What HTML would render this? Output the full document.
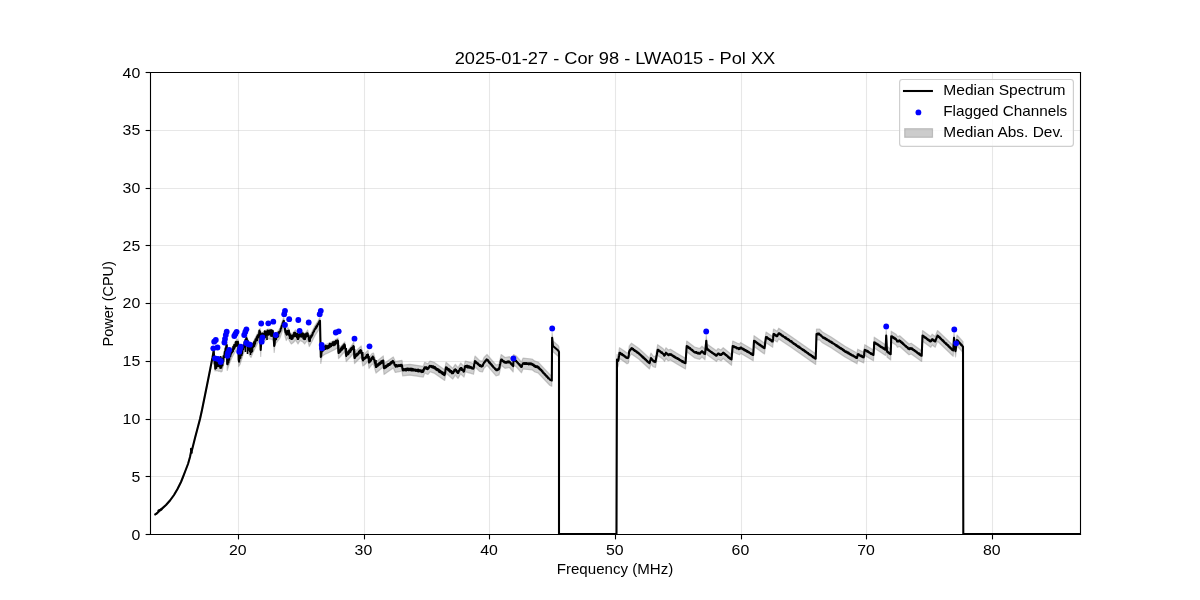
<!DOCTYPE html>
<html><head><meta charset="utf-8"><title>Median Spectrum</title>
<style>
html,body{margin:0;padding:0;background:#fff;width:1200px;height:600px;overflow:hidden}
svg{display:block;will-change:transform}
text{font-family:"Liberation Sans",sans-serif;fill:#000}
</style></head><body>
<svg width="1200" height="600" viewBox="0 0 1200 600">
<rect x="0" y="0" width="1200" height="600" fill="#fff"/>
<g stroke="#b0b0b0" stroke-opacity="0.3" stroke-width="1.11"><line x1="238.5" y1="72" x2="238.5" y2="534"/><line x1="364.5" y1="72" x2="364.5" y2="534"/><line x1="489.5" y1="72" x2="489.5" y2="534"/><line x1="615.5" y1="72" x2="615.5" y2="534"/><line x1="741.5" y1="72" x2="741.5" y2="534"/><line x1="866.5" y1="72" x2="866.5" y2="534"/><line x1="992.5" y1="72" x2="992.5" y2="534"/><line x1="150" y1="476.5" x2="1080" y2="476.5"/><line x1="150" y1="419.5" x2="1080" y2="419.5"/><line x1="150" y1="361.5" x2="1080" y2="361.5"/><line x1="150" y1="303.5" x2="1080" y2="303.5"/><line x1="150" y1="245.5" x2="1080" y2="245.5"/><line x1="150" y1="188.5" x2="1080" y2="188.5"/><line x1="150" y1="130.5" x2="1080" y2="130.5"/></g>
<defs><clipPath id="ax"><rect x="150" y="72" width="930" height="462.5"/></clipPath></defs>
<g clip-path="url(#ax)"><polygon points="155.3,513.7 156.7,512.9 159.0,510.6 162.0,508.0 166.0,504.4 170.0,499.9 174.0,494.4 177.5,488.4 181.0,481.4 183.0,476.4 185.5,469.9 188.0,463.4 190.0,456.4 191.0,451.4 192.0,449.4 195.0,437.4 197.5,427.9 200.0,417.5 202.0,408.5 206.7,385.2 210.2,367.7 212.5,356.0 213.7,346.5 214.3,354.0 215.0,359.0 216.0,358.5 217.0,359.0 218.0,359.0 219.0,359.5 220.0,359.0 221.0,360.0 222.0,361.5 224.0,352.5 226.8,341.5 227.2,360.5 228.0,358.0 230.0,352.0 232.5,346.5 235.0,342.0 237.0,339.0 238.3,340.5 238.7,356.5 240.0,354.5 243.0,345.0 246.8,335.5 248.0,340.5 249.5,345.5 251.0,347.5 253.0,342.5 256.0,336.5 258.5,331.5 260.2,328.5 260.7,346.5 261.4,333.5 264.0,331.5 266.0,330.0 268.0,329.0 270.0,329.0 272.0,329.5 273.5,330.5 274.2,342.5 275.0,334.0 277.0,332.0 279.0,329.5 280.0,328.0 282.0,322.0 283.8,317.3 285.1,326.5 286.3,330.5 288.0,327.5 289.7,331.5 291.3,334.0 293.4,332.5 295.5,330.0 298.0,334.0 300.0,330.5 303.0,332.0 304.7,334.0 307.6,330.0 309.3,336.5 312.0,331.5 315.0,325.5 318.0,321.0 320.0,317.3 320.8,354.0 322.0,347.0 324.5,345.0 328.0,343.5 332.0,341.5 335.0,340.0 338.0,338.0 338.5,349.0 340.0,347.5 344.8,342.0 346.2,352.0 350.0,348.0 353.8,342.0 354.5,352.5 358.0,349.0 361.2,346.0 362.8,355.0 365.0,353.5 368.0,350.2 369.0,357.5 372.0,353.5 373.5,353.0 376.0,362.0 383.3,356.0 384.0,363.5 393.3,357.0 395.3,361.5 402.0,360.3 402.7,365.0 410.0,364.3 423.3,366.3 424.7,362.3 428.0,363.7 430.0,361.0 434.0,362.3 444.7,369.7 446.0,362.3 452.7,368.3 455.3,364.3 458.0,367.7 460.7,363.0 464.0,366.3 465.3,361.0 470.0,362.3 473.5,363.5 475.0,356.0 479.5,360.5 482.5,361.2 484.0,357.5 487.0,354.5 496.0,365.0 499.0,364.2 501.2,354.5 505.0,357.5 509.5,356.7 513.2,361.2 513.5,354.5 516.2,356.0 521.5,362.0 523.0,358.2 532.0,359.0 535.0,361.2 538.0,362.0 550.0,374.7 551.8,375.5 552.1,332.7 553.0,341.0 558.2,345.5 559.0,347.0 559.0,357.8 558.2,356.3 553.0,351.8 552.1,343.5 551.8,386.3 550.0,385.5 538.0,372.8 535.0,372.0 532.0,369.8 523.0,369.0 521.5,372.8 516.2,366.8 513.5,365.3 513.2,372.0 509.5,367.5 505.0,368.3 501.2,365.3 499.0,375.0 496.0,375.8 487.0,365.3 484.0,368.3 482.5,372.0 479.5,371.3 475.0,366.8 473.5,374.3 470.0,373.1 465.3,371.8 464.0,377.1 460.7,373.8 458.0,378.5 455.3,375.1 452.7,379.1 446.0,373.1 444.7,380.5 434.0,373.1 430.0,371.8 428.0,374.5 424.7,373.1 423.3,377.1 410.0,375.1 402.7,375.8 402.0,371.1 395.3,372.5 393.3,368.0 384.0,374.5 383.3,367.0 376.0,373.0 373.5,364.0 372.0,364.5 369.0,368.5 368.0,361.2 365.0,364.5 362.8,366.0 361.2,357.0 358.0,360.0 354.5,363.5 353.8,353.0 350.0,357.5 346.2,361.5 344.8,351.5 340.0,357.0 338.5,358.5 338.0,347.5 335.0,349.5 332.0,351.0 328.0,353.0 324.5,354.5 322.0,356.5 320.8,363.5 320.0,327.3 318.0,331.0 315.0,335.5 312.0,341.5 309.3,346.5 307.6,340.0 304.7,344.0 303.0,342.0 300.0,340.5 298.0,344.0 295.5,340.0 293.4,342.5 291.3,344.0 289.7,341.5 288.0,337.5 286.3,340.5 285.1,336.5 283.8,327.3 282.0,332.0 280.0,338.0 279.0,339.5 277.0,342.0 275.0,344.0 274.2,352.5 273.5,340.5 272.0,339.5 270.0,339.0 268.0,339.0 266.0,340.0 264.0,341.5 261.4,343.5 260.7,356.5 260.2,338.5 258.5,341.5 256.0,346.5 253.0,352.5 251.0,357.5 249.5,355.5 248.0,350.5 246.8,345.5 243.0,355.0 240.0,364.5 238.7,366.5 238.3,350.5 237.0,349.0 235.0,352.0 232.5,356.5 230.0,362.0 228.0,368.0 227.2,370.5 226.8,351.5 224.0,362.5 222.0,371.5 221.0,372.0 220.0,371.0 219.0,371.5 218.0,371.0 217.0,371.0 216.0,370.5 215.0,371.0 214.3,366.0 213.7,358.5 212.5,359.0 210.2,370.7 206.7,388.2 202.0,411.5 200.0,420.5 197.5,429.1 195.0,438.6 192.0,450.6 191.0,452.6 190.0,457.6 188.0,464.6 185.5,471.1 183.0,477.6 181.0,482.6 177.5,489.6 174.0,495.6 170.0,501.1 166.0,505.6 162.0,509.2 159.0,511.8 156.7,514.1 155.3,514.9" fill="#808080" fill-opacity="0.36" stroke="#808080" stroke-opacity="0.4" stroke-width="1.2" stroke-linejoin="round"/><polygon points="617.0,354.5 618.0,356.0 618.7,353.0 619.5,347.7 624.0,350.7 627.0,353.0 628.5,352.2 629.2,346.2 631.5,343.2 639.0,348.5 649.5,358.2 651.0,353.0 653.2,356.0 655.5,356.7 657.7,344.7 663.0,348.5 664.5,350.7 666.0,347.7 668.2,350.0 670.5,349.2 676.5,353.0 685.5,358.2 686.7,341.0 694.5,347.0 699.7,348.5 702.0,346.2 705.0,349.0 706.3,335.7 707.0,344.0 716.5,350.7 718.0,348.5 721.0,350.0 723.2,347.7 731.5,354.5 732.7,341.0 737.5,343.2 739.7,344.0 740.5,342.5 749.5,347.7 753.2,350.0 754.0,335.7 764.5,343.2 766.0,332.0 772.7,336.5 773.5,329.0 777.2,331.2 778.7,328.2 790.0,335.7 797.5,341.0 815.7,353.7 816.5,329.0 819.5,329.0 822.5,332.0 831.5,337.2 833.7,338.7 845.0,346.2 857.0,353.0 857.7,349.2 863.7,352.2 864.8,344.7 873.5,350.0 874.2,337.2 885.5,344.7 886.2,330.5 887.0,346.2 890.7,349.2 891.2,331.2 896.0,334.2 897.5,336.5 899.7,335.7 909.0,344.0 911.2,343.2 921.7,350.7 922.5,330.5 930.7,336.5 932.2,334.2 935.2,336.5 937.5,330.5 953.2,345.5 954.0,332.7 955.5,346.2 957.0,335.0 963.0,341.7 963.0,352.5 957.0,345.8 955.5,357.0 954.0,343.5 953.2,356.3 937.5,341.3 935.2,347.3 932.2,345.0 930.7,347.3 922.5,341.3 921.7,361.5 911.2,354.0 909.0,354.8 899.7,346.5 897.5,347.3 896.0,345.0 891.2,342.0 890.7,360.0 887.0,357.0 886.2,341.3 885.5,355.5 874.2,348.0 873.5,360.8 864.8,355.5 863.7,363.0 857.7,360.0 857.0,363.8 845.0,357.0 833.7,349.5 831.5,348.0 822.5,342.8 819.5,339.8 816.5,339.8 815.7,364.5 797.5,351.8 790.0,346.5 778.7,339.0 777.2,342.0 773.5,339.8 772.7,347.3 766.0,342.8 764.5,354.0 754.0,346.5 753.2,360.8 749.5,358.5 740.5,353.3 739.7,354.8 737.5,354.0 732.7,351.8 731.5,365.3 723.2,358.5 721.0,360.8 718.0,359.3 716.5,361.5 707.0,354.8 706.3,346.5 705.0,359.8 702.0,357.0 699.7,359.3 694.5,357.8 686.7,351.8 685.5,369.0 676.5,363.8 670.5,360.0 668.2,360.8 666.0,358.5 664.5,361.5 663.0,359.3 657.7,355.5 655.5,367.5 653.2,366.8 651.0,363.8 649.5,369.0 639.0,359.3 631.5,354.0 629.2,357.0 628.5,363.0 627.0,363.8 624.0,361.5 619.5,358.5 618.7,363.8 618.0,366.8 617.0,365.3" fill="#808080" fill-opacity="0.36" stroke="#808080" stroke-opacity="0.4" stroke-width="1.2" stroke-linejoin="round"/><polyline points="155.3,514.3 156.7,513.5 159.0,511.2 162.0,508.6 166.0,505.0 170.0,500.5 174.0,495.0 177.5,489.0 181.0,482.0 183.0,477.0 185.5,470.5 188.0,464.0 190.0,457.0 191.0,452.0 192.0,450.0 195.0,438.0 197.5,428.5 200.0,419.0 202.0,410.0 206.7,386.7 210.2,369.2 212.5,357.5 213.7,350.5 214.0,354.8 214.3,358.0 214.7,363.9 215.0,363.0 215.3,368.6 215.7,359.7 216.0,362.5 216.3,367.9 216.7,358.4 217.0,363.0 217.3,365.9 217.7,357.9 218.0,363.0 218.3,366.0 218.7,358.6 219.0,363.5 219.3,366.3 219.7,360.1 220.0,363.0 220.3,368.0 220.7,357.0 221.0,364.0 221.3,367.6 221.7,361.0 222.0,365.0 222.4,365.5 222.8,358.5 223.2,361.8 223.6,356.0 224.0,356.0 224.4,357.0 224.8,351.9 225.2,353.6 225.6,348.3 226.0,349.3 226.4,345.5 226.8,345.0 227.2,364.0 227.6,364.2 228.0,361.5 228.4,362.6 228.8,357.9 229.2,359.8 229.6,354.7 230.0,355.5 230.4,356.1 230.8,351.8 231.2,353.8 231.7,350.8 232.1,352.2 232.5,350.0 232.9,351.3 233.3,346.9 233.8,349.2 234.2,345.1 234.6,347.9 235.0,345.5 235.4,346.3 235.8,342.0 236.2,345.8 236.6,341.8 237.0,342.5 237.4,344.9 237.9,341.7 238.3,344.0 238.7,360.0 239.1,361.7 239.6,356.5 240.0,358.0 240.4,358.0 240.9,352.7 241.3,355.0 241.7,351.0 242.1,353.4 242.6,348.7 243.0,348.5 243.4,349.2 243.8,345.4 244.2,347.4 244.7,342.1 245.1,345.1 245.5,339.8 245.9,342.6 246.3,338.0 246.8,339.0 247.2,342.6 247.6,340.4 248.0,344.0 248.4,346.9 248.8,344.2 249.1,350.3 249.5,349.0 249.9,351.2 250.2,348.0 250.6,351.5 251.0,351.0 251.4,352.1 251.8,347.0 252.2,351.2 252.6,344.2 253.0,346.0 253.4,346.9 253.9,342.4 254.3,345.9 254.7,341.4 255.1,343.8 255.6,339.4 256.0,340.0 256.4,340.5 256.8,337.1 257.2,340.2 257.7,335.3 258.1,337.5 258.5,335.0 258.9,336.2 259.4,330.6 259.8,334.0 260.2,332.0 260.4,343.1 260.7,350.0 261.0,345.8 261.4,337.0 261.8,339.6 262.3,333.5 262.7,338.9 263.1,334.0 263.6,337.3 264.0,335.0 264.4,336.6 264.8,331.4 265.2,337.2 265.6,332.4 266.0,333.5 266.4,334.8 266.8,331.5 267.2,334.5 267.6,330.6 268.0,332.5 268.4,334.8 268.8,330.8 269.2,333.6 269.6,330.5 270.0,332.5 270.4,334.5 270.8,330.4 271.2,335.9 271.6,330.3 272.0,333.0 272.4,335.4 272.8,331.1 273.1,336.3 273.5,334.0 273.9,341.2 274.2,346.0 274.6,344.7 275.0,337.5 275.4,339.8 275.8,333.8 276.2,339.1 276.6,334.0 277.0,335.5 277.4,336.9 277.8,333.2 278.2,336.4 278.6,332.3 279.0,333.0 279.3,332.8 279.7,331.6 280.0,331.5 280.4,330.7 280.8,328.6 281.2,328.2 281.6,326.4 282.0,325.5 282.4,324.9 282.7,323.3 283.1,323.1 283.4,321.4 283.8,320.8 284.2,326.1 284.7,325.1 285.1,330.0 285.5,332.4 285.9,331.4 286.3,334.0 286.7,334.6 287.1,331.1 287.6,332.8 288.0,331.0 288.4,334.2 288.9,330.6 289.3,335.6 289.7,335.0 290.1,337.2 290.5,335.3 290.9,337.9 291.3,337.5 291.7,338.6 292.1,335.6 292.6,338.7 293.0,335.2 293.4,336.0 293.8,336.4 294.2,332.7 294.7,336.2 295.1,332.9 295.5,333.5 295.9,335.9 296.3,334.0 296.8,337.2 297.2,333.8 297.6,339.0 298.0,337.5 298.4,338.7 298.8,334.9 299.2,336.8 299.6,333.6 300.0,334.0 300.4,336.3 300.9,332.8 301.3,336.7 301.7,333.5 302.1,336.3 302.6,333.2 303.0,335.5 303.4,338.4 303.9,334.3 304.3,339.1 304.7,337.5 305.1,339.0 305.5,334.4 305.9,337.0 306.4,333.6 306.8,336.0 307.2,333.2 307.6,333.5 308.0,336.0 308.5,335.5 308.9,339.6 309.3,340.0 309.8,341.1 310.2,337.6 310.6,338.0 311.1,335.9 311.6,336.6 312.0,335.0 312.4,334.9 312.9,332.8 313.3,332.8 313.7,331.2 314.1,331.1 314.6,329.5 315.0,329.0 315.4,329.0 315.9,327.0 316.3,327.8 316.7,325.9 317.1,326.4 317.6,324.4 318.0,324.5 318.4,324.1 318.8,322.4 319.2,323.0 319.6,320.9 320.0,320.8 320.4,339.6 320.8,357.0 321.2,355.9 321.6,351.5 322.0,350.0 322.4,351.2 322.8,348.3 323.2,350.6 323.7,346.9 324.1,349.4 324.5,348.0 324.9,348.9 325.4,345.9 325.8,348.9 326.2,346.4 326.7,347.8 327.1,346.1 327.6,348.4 328.0,346.5 328.4,347.9 328.9,345.3 329.3,347.4 329.8,343.8 330.2,346.8 330.7,344.1 331.1,346.2 331.6,343.9 332.0,344.5 332.4,344.9 332.9,342.3 333.3,345.2 333.7,342.4 334.1,345.2 334.6,342.1 335.0,343.0 335.4,344.4 335.9,340.8 336.3,343.0 336.7,340.9 337.1,342.5 337.6,340.4 338.0,341.0 338.2,347.8 338.5,352.0 338.9,352.6 339.2,350.1 339.6,351.7 340.0,350.5 340.4,351.7 340.9,348.5 341.3,350.2 341.7,347.2 342.2,349.7 342.6,346.4 343.0,348.7 343.5,345.3 343.9,347.3 344.3,344.3 344.8,345.0 345.1,348.2 345.5,348.9 345.9,353.3 346.2,355.0 346.7,355.2 347.1,352.5 347.5,354.5 347.9,352.0 348.3,354.3 348.8,351.1 349.2,352.9 349.6,350.2 350.0,351.0 350.4,351.8 350.8,348.5 351.2,350.3 351.7,347.7 352.1,349.2 352.5,347.3 352.9,348.6 353.3,346.1 353.8,346.5 354.1,352.7 354.5,357.0 354.9,357.7 355.4,354.9 355.8,356.5 356.2,354.3 356.7,355.7 357.1,353.5 357.6,355.0 358.0,353.5 358.4,354.0 358.8,351.8 359.2,353.2 359.6,350.7 360.0,352.7 360.4,350.1 360.8,352.1 361.2,350.5 361.6,353.4 362.0,354.1 362.4,358.5 362.8,359.5 363.1,360.4 363.5,358.4 363.9,359.3 364.2,357.7 364.6,358.8 365.0,358.0 365.4,358.2 365.9,356.6 366.3,357.6 366.7,355.0 367.1,356.9 367.6,354.6 368.0,354.8 368.3,358.2 368.7,358.6 369.0,362.0 369.4,362.0 369.9,359.7 370.3,361.6 370.7,359.1 371.1,360.4 371.6,357.8 372.0,358.0 372.4,358.7 372.8,356.5 373.1,358.8 373.5,357.5 373.9,359.6 374.3,359.7 374.8,362.9 375.2,362.8 375.6,365.6 376.0,366.5 376.4,366.9 376.9,364.7 377.3,365.9 377.7,364.2 378.1,365.6 378.6,363.9 379.0,364.8 379.4,362.7 379.9,364.2 380.3,362.6 380.7,363.6 381.2,361.4 381.6,362.9 382.0,361.1 382.4,361.7 382.9,360.5 383.3,360.5 383.6,365.1 384.0,368.0 384.4,368.2 384.9,366.9 385.3,367.7 385.8,365.8 386.2,367.3 386.7,365.6 387.1,366.3 387.5,364.6 388.0,365.9 388.4,364.1 388.9,365.0 389.3,363.9 389.8,364.8 390.2,363.0 390.6,363.8 391.1,362.1 391.5,363.5 392.0,361.6 392.4,362.5 392.9,360.9 393.3,361.5 393.7,362.8 394.1,362.4 394.5,364.8 394.9,364.5 395.3,366.0 395.7,366.7 396.2,365.0 396.6,366.4 397.1,365.4 397.5,366.5 398.0,365.2 398.4,366.1 398.9,365.2 399.3,366.0 399.8,365.1 400.2,366.0 400.7,364.9 401.1,366.2 401.6,364.8 402.0,365.3 402.4,368.3 402.7,370.0 403.1,370.4 403.6,369.3 404.0,370.2 404.4,369.3 404.8,370.2 405.3,368.9 405.7,370.4 406.1,369.2 406.6,370.3 407.0,368.6 407.4,370.0 407.9,368.6 408.3,370.1 408.7,368.8 409.1,370.3 409.6,368.7 410.0,369.3 410.4,370.0 410.9,368.6 411.3,370.5 411.8,369.0 412.2,370.5 412.7,368.9 413.1,370.5 413.5,369.2 414.0,370.5 414.4,369.6 414.9,370.5 415.3,369.7 415.8,371.0 416.2,369.7 416.6,370.8 417.1,370.0 417.5,371.3 418.0,369.6 418.4,371.4 418.9,370.1 419.3,371.2 419.8,370.2 420.2,371.5 420.6,370.4 421.1,371.6 421.5,370.5 422.0,372.1 422.4,370.2 422.9,371.9 423.3,371.3 423.6,370.8 424.0,368.3 424.4,368.9 424.7,367.3 425.1,368.1 425.5,367.3 425.9,368.4 426.4,367.3 426.8,368.9 427.2,367.9 427.6,369.2 428.0,368.7 428.4,368.5 428.8,367.1 429.2,367.5 429.6,365.9 430.0,366.0 430.4,366.5 430.9,365.9 431.3,367.0 431.8,366.1 432.2,367.5 432.7,366.2 433.1,367.8 433.6,366.4 434.0,367.3 434.4,368.4 434.9,367.0 435.3,368.8 435.8,368.0 436.2,369.8 436.7,368.7 437.1,370.3 437.6,369.0 438.0,370.5 438.5,369.5 438.9,371.6 439.4,370.2 439.8,372.1 440.2,370.7 440.7,372.4 441.1,371.5 441.6,373.2 442.0,372.0 442.5,374.0 442.9,372.6 443.4,374.5 443.8,373.2 444.3,375.2 444.7,374.7 445.1,373.0 445.6,369.3 446.0,367.3 446.4,368.1 446.9,367.7 447.3,369.1 447.8,368.5 448.2,370.2 448.7,369.0 449.1,370.9 449.6,369.7 450.0,371.7 450.5,370.6 450.9,372.1 451.4,371.2 451.8,373.3 452.3,372.2 452.7,373.3 453.1,373.3 453.6,371.2 454.0,371.7 454.4,369.8 454.9,370.5 455.3,369.3 455.8,370.3 456.2,369.9 456.6,371.8 457.1,371.1 457.6,373.0 458.0,372.7 458.4,372.9 458.9,370.5 459.4,370.9 459.8,368.9 460.2,369.6 460.7,368.0 461.1,369.3 461.5,368.1 461.9,370.0 462.4,369.2 462.8,370.5 463.2,370.0 463.6,371.7 464.0,371.3 464.4,370.1 464.9,367.0 465.3,366.0 465.7,366.5 466.2,365.8 466.6,366.9 467.0,365.7 467.4,367.4 467.9,365.9 468.3,367.4 468.7,366.3 469.1,367.7 469.6,366.5 470.0,367.3 470.4,367.7 470.9,367.0 471.3,368.0 471.8,367.3 472.2,368.6 472.6,368.0 473.1,368.7 473.5,368.5 473.9,367.2 474.2,364.2 474.6,363.3 475.0,361.0 475.4,361.7 475.8,361.5 476.2,362.8 476.6,362.3 477.0,363.5 477.5,363.2 477.9,364.3 478.3,363.7 478.7,364.9 479.1,364.6 479.5,365.5 479.9,366.0 480.4,365.1 480.8,366.3 481.2,365.6 481.6,366.6 482.1,365.7 482.5,366.2 482.9,365.5 483.2,364.1 483.6,363.8 484.0,362.5 484.4,362.5 484.9,361.3 485.3,361.5 485.7,360.4 486.1,360.7 486.6,359.4 487.0,359.5 487.4,360.2 487.9,360.0 488.3,361.5 488.7,361.2 489.1,362.6 489.6,362.0 490.0,363.6 490.4,363.2 490.9,364.4 491.3,364.1 491.7,365.6 492.1,365.1 492.6,366.4 493.0,366.1 493.4,367.3 493.9,367.3 494.3,368.2 494.7,368.0 495.1,369.3 495.6,368.9 496.0,370.0 496.4,370.2 496.9,369.5 497.3,370.1 497.7,369.3 498.1,369.8 498.6,368.7 499.0,369.2 499.4,367.8 499.9,364.8 500.3,363.8 500.8,360.9 501.2,359.5 501.6,360.4 502.0,359.7 502.5,361.0 502.9,360.6 503.3,361.7 503.7,361.1 504.2,362.3 504.6,361.7 505.0,362.5 505.4,362.7 505.8,362.1 506.2,362.9 506.6,361.9 507.0,362.5 507.5,361.7 507.9,362.3 508.3,361.4 508.7,362.4 509.1,361.5 509.5,361.7 509.9,362.7 510.3,362.4 510.7,363.6 511.1,363.3 511.6,364.5 512.0,364.4 512.4,365.5 512.8,365.1 513.2,366.2 513.5,359.5 513.9,360.1 514.3,359.6 514.7,360.7 515.0,359.8 515.4,361.0 515.8,360.5 516.2,361.0 516.6,361.8 517.1,361.8 517.5,362.8 518.0,362.8 518.4,363.8 518.9,363.7 519.3,364.9 519.7,364.4 520.2,366.0 520.6,365.6 521.1,366.9 521.5,367.0 521.9,366.5 522.2,364.7 522.6,364.5 523.0,363.2 523.4,363.5 523.9,363.0 524.3,363.9 524.7,363.1 525.1,363.8 525.6,363.0 526.0,364.0 526.4,363.2 526.9,363.9 527.3,363.3 527.7,364.0 528.1,363.3 528.6,364.3 529.0,363.2 529.4,364.3 529.9,363.6 530.3,364.1 530.7,363.4 531.1,364.5 531.6,363.6 532.0,364.0 532.4,364.8 532.9,364.4 533.3,365.3 533.7,364.7 534.1,366.1 534.6,365.3 535.0,366.2 535.4,366.9 535.9,366.1 536.3,366.8 536.7,366.4 537.1,367.2 537.6,366.4 538.0,367.0 538.4,368.0 538.9,367.4 539.3,368.9 539.8,368.4 540.2,369.7 540.7,369.4 541.1,370.5 541.6,370.2 542.0,371.5 542.4,371.1 542.9,372.6 543.3,372.3 543.8,373.4 544.2,373.3 544.7,374.5 545.1,374.0 545.6,375.3 546.0,375.2 546.4,376.4 546.9,376.0 547.3,377.2 547.8,377.1 548.2,378.3 548.7,378.1 549.1,378.8 549.6,379.2 550.0,379.7 551.8,380.5 552.1,337.7 553.0,346.0 558.2,350.5 559.0,352.0 559.0,534.0 616.5,534.0 617.0,359.5 618.0,361.0 618.4,360.0 618.7,358.0 619.1,355.7 619.5,352.7 619.9,353.4 620.3,352.9 620.7,353.8 621.1,353.5 621.5,354.6 622.0,353.9 622.4,354.9 622.8,354.7 623.2,355.5 623.6,355.0 624.0,355.7 624.4,356.3 624.9,356.1 625.3,357.1 625.7,356.5 626.1,357.6 626.6,357.5 627.0,358.0 627.4,358.1 627.8,357.3 628.1,357.8 628.5,357.2 628.9,354.4 629.2,351.2 629.6,351.1 630.0,349.8 630.4,350.0 630.7,349.0 631.1,349.2 631.5,348.2 631.9,348.8 632.4,348.4 632.8,349.4 633.3,349.2 633.7,350.2 634.1,349.8 634.6,350.9 635.0,350.4 635.5,351.2 635.9,351.1 636.4,351.9 636.8,351.5 637.2,352.7 637.7,352.3 638.1,353.2 638.6,352.9 639.0,353.5 639.4,354.4 639.9,354.1 640.3,354.9 640.8,354.9 641.2,355.8 641.6,355.5 642.1,356.8 642.5,356.3 642.9,357.6 643.4,357.1 643.8,358.2 644.2,358.1 644.7,359.2 645.1,358.7 645.6,359.7 646.0,359.6 646.4,360.7 646.9,360.5 647.3,361.5 647.8,361.4 648.2,362.2 648.6,362.1 649.1,363.1 649.5,363.2 649.9,362.4 650.2,360.4 650.6,359.8 651.0,358.0 651.4,358.8 651.9,358.9 652.3,360.2 652.8,360.0 653.2,361.0 653.6,361.4 654.0,361.0 654.4,361.7 654.7,361.2 655.1,362.1 655.5,361.7 655.9,359.5 656.4,356.6 656.8,355.0 657.3,351.9 657.7,349.7 658.1,350.3 658.6,349.9 659.0,351.1 659.5,350.8 659.9,351.5 660.4,351.4 660.8,352.4 661.2,352.0 661.7,353.0 662.1,352.4 662.6,353.5 663.0,353.5 663.4,354.3 663.8,354.1 664.1,355.5 664.5,355.7 664.9,355.2 665.2,353.8 665.6,353.7 666.0,352.7 666.4,353.4 666.9,353.4 667.3,354.5 667.8,354.1 668.2,355.0 668.6,355.2 669.0,354.3 669.4,354.8 669.7,354.2 670.1,354.7 670.5,354.2 670.9,355.0 671.4,354.3 671.8,355.3 672.2,355.0 672.6,355.9 673.1,355.5 673.5,356.6 673.9,356.1 674.4,357.1 674.8,356.5 675.2,357.6 675.6,357.0 676.1,358.1 676.5,358.0 676.9,358.5 677.4,358.2 677.8,359.0 678.2,358.6 678.6,359.4 679.1,359.2 679.5,360.2 679.9,359.7 680.4,360.4 680.8,360.3 681.2,361.1 681.6,360.7 682.1,361.7 682.5,361.0 682.9,362.2 683.4,361.7 683.8,362.4 684.2,362.3 684.6,363.0 685.1,362.5 685.5,363.2 685.9,357.8 686.3,351.5 686.7,346.0 687.1,346.6 687.6,346.3 688.0,347.4 688.4,346.9 688.9,348.1 689.3,347.6 689.7,348.5 690.2,348.2 690.6,349.3 691.0,349.0 691.5,350.0 691.9,349.6 692.3,350.6 692.8,350.4 693.2,351.3 693.6,351.1 694.1,352.1 694.5,352.0 694.9,352.5 695.4,352.0 695.8,352.7 696.2,352.0 696.7,353.0 697.1,352.5 697.5,353.3 698.0,352.6 698.4,353.6 698.8,353.0 699.3,353.7 699.7,353.5 700.1,353.6 700.5,352.3 700.9,352.8 701.2,351.8 701.6,351.9 702.0,351.2 702.4,351.8 702.9,351.8 703.3,352.9 703.7,352.4 704.1,353.7 704.6,353.3 705.0,354.0 705.4,350.0 705.9,344.8 706.3,340.7 706.6,345.1 707.0,349.0 707.4,349.7 707.9,349.1 708.3,350.1 708.7,349.8 709.2,350.9 709.6,350.6 710.0,351.4 710.5,351.2 710.9,352.0 711.3,351.8 711.8,352.7 712.2,352.3 712.6,353.2 713.0,353.1 713.5,353.8 713.9,353.5 714.3,354.4 714.8,354.2 715.2,355.0 715.6,354.7 716.1,355.7 716.5,355.7 716.9,355.3 717.2,354.4 717.6,354.4 718.0,353.5 718.4,354.1 718.9,353.5 719.3,354.3 719.7,354.1 720.1,355.0 720.6,354.5 721.0,355.0 721.4,354.8 721.9,353.8 722.3,354.1 722.8,352.9 723.2,352.7 723.6,353.4 724.1,353.1 724.5,354.1 724.9,353.7 725.4,355.0 725.8,354.6 726.3,355.4 726.7,355.2 727.1,356.2 727.6,356.1 728.0,357.1 728.4,356.7 728.9,357.8 729.3,357.4 729.8,358.5 730.2,358.1 730.6,359.0 731.1,359.0 731.5,359.5 731.9,355.4 732.3,350.1 732.7,346.0 733.1,346.7 733.6,346.2 734.0,347.0 734.4,346.5 734.9,347.3 735.3,347.0 735.8,347.7 736.2,347.3 736.6,348.3 737.1,347.8 737.5,348.2 737.9,348.7 738.4,348.1 738.8,349.2 739.3,348.6 739.7,349.0 740.1,348.5 740.5,347.5 740.9,348.2 741.4,347.5 741.8,348.6 742.2,348.3 742.6,349.2 743.1,348.7 743.5,349.7 743.9,349.1 744.4,350.2 744.8,349.7 745.2,350.7 745.6,350.2 746.1,351.0 746.5,350.5 746.9,351.7 747.4,351.2 747.8,352.0 748.2,351.7 748.6,352.5 749.1,352.2 749.5,352.7 749.9,353.2 750.3,353.0 750.7,353.9 751.1,353.3 751.6,354.2 752.0,353.9 752.4,354.9 752.8,354.6 753.2,355.0 753.6,348.3 754.0,340.7 754.4,341.2 754.9,341.0 755.3,342.0 755.8,341.6 756.2,342.5 756.6,342.3 757.1,343.3 757.5,342.9 757.9,343.9 758.4,343.5 758.8,344.5 759.2,344.3 759.7,345.1 760.1,344.7 760.6,345.6 761.0,345.3 761.4,346.4 761.9,346.0 762.3,346.9 762.8,346.6 763.2,347.5 763.6,347.4 764.1,348.2 764.5,348.2 764.9,345.6 765.2,342.3 765.6,340.1 766.0,337.0 766.4,337.5 766.9,337.2 767.3,338.1 767.8,337.8 768.2,338.9 768.7,338.5 769.1,339.3 769.6,339.1 770.0,340.0 770.5,339.5 770.9,340.5 771.4,340.1 771.8,341.4 772.3,340.8 772.7,341.5 773.1,338.2 773.5,334.0 773.9,334.5 774.3,334.0 774.7,335.1 775.1,334.5 775.6,335.7 776.0,335.2 776.4,336.1 776.8,335.5 777.2,336.2 777.6,335.6 778.0,334.4 778.3,334.4 778.7,333.2 779.1,333.7 779.6,333.3 780.0,334.3 780.4,333.9 780.9,334.9 781.3,334.6 781.7,335.7 782.2,335.3 782.6,336.1 783.0,335.7 783.5,336.7 783.9,336.5 784.4,337.2 784.8,337.0 785.2,338.0 785.7,337.4 786.1,338.6 786.5,338.2 787.0,339.1 787.4,338.8 787.8,339.6 788.3,339.2 788.7,340.1 789.1,339.7 789.6,340.8 790.0,340.7 790.4,341.4 790.9,340.9 791.3,341.8 791.8,341.4 792.2,342.6 792.6,342.3 793.1,343.3 793.5,342.9 794.0,344.0 794.4,343.5 794.9,344.4 795.3,344.0 795.7,345.1 796.2,344.8 796.6,345.8 797.1,345.5 797.5,346.0 797.9,346.8 798.4,346.4 798.8,347.3 799.3,346.7 799.7,347.9 800.2,347.5 800.6,348.4 801.1,348.3 801.5,349.0 801.9,348.9 802.4,349.8 802.8,349.4 803.3,350.4 803.7,349.9 804.2,350.9 804.6,350.7 805.0,351.7 805.5,351.4 805.9,352.1 806.4,351.9 806.8,352.7 807.3,352.5 807.7,353.4 808.2,353.1 808.6,354.1 809.0,353.8 809.5,354.7 809.9,354.3 810.4,355.2 810.8,354.8 811.3,355.9 811.7,355.7 812.1,356.4 812.6,356.1 813.0,357.3 813.5,356.7 813.9,357.8 814.4,357.5 814.8,358.3 815.3,358.0 815.7,358.7 816.1,346.7 816.5,334.0 816.9,334.3 817.4,333.6 817.8,334.3 818.2,333.5 818.6,334.4 819.1,333.7 819.5,334.0 819.9,334.9 820.4,334.7 820.8,335.6 821.2,335.4 821.6,336.4 822.1,336.4 822.5,337.0 822.9,337.7 823.4,337.3 823.8,338.1 824.2,337.5 824.6,338.5 825.1,338.2 825.5,339.1 825.9,338.6 826.4,339.6 826.8,339.0 827.2,340.0 827.6,339.7 828.1,340.5 828.5,340.3 828.9,341.2 829.4,340.5 829.8,341.6 830.2,341.3 830.6,342.2 831.1,341.5 831.5,342.2 831.9,342.8 832.4,342.4 832.8,343.4 833.3,343.2 833.7,343.7 834.1,344.2 834.6,344.0 835.0,344.8 835.4,344.6 835.9,345.6 836.3,345.0 836.7,346.2 837.2,345.6 837.6,346.6 838.0,346.2 838.5,347.2 838.9,346.7 839.4,347.8 839.8,347.5 840.2,348.4 840.7,347.8 841.1,348.8 841.5,348.4 842.0,349.4 842.4,349.2 842.8,350.0 843.3,349.6 843.7,350.8 844.1,350.2 844.6,351.2 845.0,351.2 845.4,351.9 845.9,351.4 846.3,352.2 846.8,351.7 847.2,352.8 847.7,352.3 848.1,353.4 848.6,352.7 849.0,353.8 849.4,353.3 849.9,354.4 850.3,353.8 850.8,354.8 851.2,354.3 851.7,355.3 852.1,355.0 852.6,355.7 853.0,355.4 853.4,356.2 853.9,355.8 854.3,356.7 854.8,356.6 855.2,357.2 855.7,356.8 856.1,357.8 856.6,357.5 857.0,358.0 857.4,356.3 857.7,354.2 858.1,354.6 858.6,354.2 859.0,355.2 859.4,354.7 859.8,355.7 860.3,355.3 860.7,356.1 861.1,355.6 861.6,356.6 862.0,355.9 862.4,357.0 862.8,356.6 863.3,357.4 863.7,357.2 864.1,355.2 864.4,351.7 864.8,349.7 865.2,350.2 865.7,350.0 866.1,350.7 866.5,350.6 867.0,351.5 867.4,350.9 867.8,351.9 868.3,351.4 868.7,352.5 869.1,352.1 869.6,352.8 870.0,352.7 870.5,353.6 870.9,353.2 871.3,354.0 871.8,353.6 872.2,354.4 872.6,354.2 873.1,355.0 873.5,355.0 873.9,349.0 874.2,342.2 874.6,342.8 875.1,342.5 875.5,343.6 875.9,343.0 876.4,344.1 876.8,343.6 877.2,344.4 877.7,344.2 878.1,345.1 878.5,344.7 879.0,345.7 879.4,345.3 879.9,346.3 880.3,346.0 880.7,347.0 881.2,346.6 881.6,347.5 882.0,347.2 882.5,347.9 882.9,347.7 883.3,348.7 883.8,348.1 884.2,349.0 884.6,348.8 885.1,349.7 885.5,349.7 885.9,343.0 886.2,335.5 886.6,343.6 887.0,351.2 887.4,351.9 887.8,351.6 888.2,352.6 888.6,352.3 889.1,353.3 889.5,352.9 889.9,353.8 890.3,353.5 890.7,354.2 891.0,345.5 891.2,336.2 891.6,336.7 892.1,336.4 892.5,337.2 892.9,336.9 893.4,338.0 893.8,337.4 894.3,338.5 894.7,338.1 895.1,339.0 895.6,338.6 896.0,339.2 896.4,340.2 896.8,340.1 897.1,341.4 897.5,341.5 897.9,341.5 898.4,340.9 898.8,341.3 899.3,340.4 899.7,340.7 900.1,341.4 900.6,341.2 901.0,342.3 901.5,342.0 901.9,343.0 902.4,342.7 902.8,343.9 903.2,343.4 903.7,344.6 904.1,344.4 904.6,345.3 905.0,345.2 905.5,346.3 905.9,345.8 906.3,347.0 906.8,346.8 907.2,347.7 907.7,347.4 908.1,348.6 908.6,348.4 909.0,349.0 909.4,349.2 909.9,348.2 910.3,348.8 910.8,348.1 911.2,348.2 911.6,348.8 912.1,348.4 912.5,349.6 913.0,349.2 913.4,350.0 913.8,349.8 914.3,350.7 914.7,350.4 915.1,351.2 915.6,351.0 916.0,351.9 916.5,351.5 916.9,352.7 917.3,352.4 917.8,353.4 918.2,353.0 918.6,353.8 919.1,353.3 919.5,354.6 920.0,354.0 920.4,355.1 920.8,354.8 921.3,355.8 921.7,355.7 922.1,345.8 922.5,335.5 922.9,336.1 923.4,335.8 923.8,336.6 924.2,336.5 924.7,337.5 925.1,337.0 925.5,338.0 926.0,337.6 926.4,338.7 926.8,338.4 927.2,339.3 927.7,339.0 928.1,340.0 928.5,339.5 929.0,340.6 929.4,340.2 929.8,341.3 930.3,340.9 930.7,341.5 931.1,341.2 931.5,339.9 931.8,340.2 932.2,339.2 932.6,340.0 933.1,339.5 933.5,340.6 933.9,340.1 934.3,341.2 934.8,340.8 935.2,341.5 935.6,340.8 936.0,339.1 936.4,338.7 936.7,337.2 937.1,336.9 937.5,335.5 937.9,336.3 938.4,336.0 938.8,337.0 939.3,336.9 939.7,338.0 940.2,337.7 940.6,338.8 941.1,338.5 941.5,339.8 942.0,339.6 942.4,340.6 942.9,340.2 943.3,341.4 943.8,341.2 944.2,342.4 944.7,342.2 945.1,343.1 945.6,343.0 946.0,344.1 946.5,343.6 946.9,344.8 947.4,344.7 947.8,345.7 948.3,345.4 948.7,346.6 949.2,346.3 949.6,347.5 950.1,347.1 950.5,348.3 951.0,348.0 951.4,349.3 951.9,349.0 952.3,350.0 952.8,349.8 953.2,350.5 953.6,344.5 954.0,337.7 954.4,341.3 954.8,344.0 955.1,348.1 955.5,351.2 955.9,348.6 956.2,345.3 956.6,343.1 957.0,340.0 957.4,340.7 957.9,340.6 958.3,341.7 958.7,341.5 959.1,342.7 959.6,342.6 960.0,343.6 960.4,343.4 960.9,344.8 961.3,344.4 961.7,345.5 962.1,345.3 962.6,346.5 963.0,346.7 963.3,534.0 1082.0,534.0" fill="none" stroke="#000" stroke-width="2.08" stroke-linejoin="round" stroke-linecap="square"/><g stroke="#000" stroke-width="1.6"><line x1="241.7" y1="350" x2="241.7" y2="356"/><line x1="245.5" y1="341" x2="245.5" y2="352"/><line x1="247.5" y1="342" x2="247.5" y2="354"/><line x1="250.5" y1="348" x2="250.5" y2="355"/><line x1="263" y1="336" x2="263" y2="344"/><line x1="267" y1="333" x2="267" y2="340"/><line x1="289.7" y1="333" x2="289.7" y2="339"/><line x1="291.3" y1="336" x2="291.3" y2="340"/><line x1="298" y1="336" x2="298" y2="340"/><line x1="304.7" y1="336" x2="304.7" y2="340"/><line x1="309.3" y1="338" x2="309.3" y2="342"/><line x1="338.5" y1="345" x2="338.5" y2="354"/><line x1="346.25" y1="348" x2="346.25" y2="357"/><line x1="354.5" y1="349" x2="354.5" y2="359"/><line x1="362.75" y1="352" x2="362.75" y2="361"/><line x1="369" y1="356" x2="369" y2="363.5"/><line x1="376" y1="360" x2="376" y2="368"/></g><g stroke="#000" stroke-width="2.4" stroke-linecap="round"><line x1="158.6" y1="510.6" x2="161.2" y2="509.5"/><line x1="191.1" y1="449" x2="191.6" y2="452.6"/></g><g fill="#0000ff"><circle cx="214.2" cy="341.7" r="2.9"/><circle cx="215.8" cy="340" r="2.9"/><circle cx="213.3" cy="348.3" r="2.9"/><circle cx="217.5" cy="347.5" r="2.9"/><circle cx="215" cy="358.3" r="2.9"/><circle cx="218" cy="359" r="2.9"/><circle cx="220.8" cy="360.8" r="2.9"/><circle cx="220.6" cy="362.1" r="2.9"/><circle cx="226.7" cy="331.7" r="2.9"/><circle cx="225.8" cy="335" r="2.9"/><circle cx="225" cy="339" r="2.9"/><circle cx="224.4" cy="342.5" r="2.9"/><circle cx="229.2" cy="350" r="2.9"/><circle cx="228" cy="353" r="2.9"/><circle cx="227.5" cy="355.8" r="2.9"/><circle cx="234.3" cy="336" r="2.9"/><circle cx="235.4" cy="334" r="2.9"/><circle cx="236.6" cy="331.8" r="2.9"/><circle cx="246.4" cy="329.3" r="2.9"/><circle cx="245.3" cy="332" r="2.9"/><circle cx="244.2" cy="335" r="2.9"/><circle cx="240.8" cy="346.7" r="2.9"/><circle cx="239.2" cy="351.7" r="2.9"/><circle cx="240" cy="349" r="2.9"/><circle cx="246.2" cy="342.9" r="2.9"/><circle cx="248.3" cy="344.2" r="2.9"/><circle cx="249.9" cy="344.7" r="2.9"/><circle cx="261.2" cy="323.5" r="2.9"/><circle cx="262.5" cy="337.5" r="2.9"/><circle cx="261.7" cy="341.7" r="2.9"/><circle cx="268.3" cy="323.3" r="2.9"/><circle cx="273.3" cy="321.7" r="2.9"/><circle cx="275.8" cy="335" r="2.9"/><circle cx="285" cy="310.8" r="2.9"/><circle cx="284.2" cy="314.2" r="2.9"/><circle cx="289.2" cy="319.2" r="2.9"/><circle cx="285" cy="325" r="2.9"/><circle cx="298.3" cy="320" r="2.9"/><circle cx="299.6" cy="330.8" r="2.9"/><circle cx="308.7" cy="322.5" r="2.9"/><circle cx="320.8" cy="310.8" r="2.9"/><circle cx="319.7" cy="314.2" r="2.9"/><circle cx="321.7" cy="345" r="2.9"/><circle cx="322" cy="348.3" r="2.9"/><circle cx="335.8" cy="332.5" r="2.9"/><circle cx="338.7" cy="331.3" r="2.9"/><circle cx="354.5" cy="338.7" r="2.9"/><circle cx="369.5" cy="346.3" r="2.9"/><circle cx="513.4" cy="358.4" r="2.9"/><circle cx="552.2" cy="328.5" r="2.9"/><circle cx="706.2" cy="331.5" r="2.9"/><circle cx="886.2" cy="326.5" r="2.9"/><circle cx="954.3" cy="329.5" r="2.9"/><circle cx="956.2" cy="343.3" r="2.9"/></g></g>
<g stroke="#000" stroke-width="1.11" fill="none" stroke-linecap="square"><line x1="150.5" y1="72.5" x2="150.5" y2="534.5"/><line x1="1080.5" y1="72.5" x2="1080.5" y2="534.5"/><line x1="150.5" y1="72.5" x2="1080.5" y2="72.5"/><line x1="150.5" y1="534.5" x2="1080.5" y2="534.5"/></g>
<g stroke="#000" stroke-width="1.11"><line x1="238.5" y1="534.5" x2="238.5" y2="539.4"/><line x1="364.5" y1="534.5" x2="364.5" y2="539.4"/><line x1="489.5" y1="534.5" x2="489.5" y2="539.4"/><line x1="615.5" y1="534.5" x2="615.5" y2="539.4"/><line x1="741.5" y1="534.5" x2="741.5" y2="539.4"/><line x1="866.5" y1="534.5" x2="866.5" y2="539.4"/><line x1="992.5" y1="534.5" x2="992.5" y2="539.4"/><line x1="145.6" y1="534.5" x2="150.5" y2="534.5"/><line x1="145.6" y1="476.5" x2="150.5" y2="476.5"/><line x1="145.6" y1="419.5" x2="150.5" y2="419.5"/><line x1="145.6" y1="361.5" x2="150.5" y2="361.5"/><line x1="145.6" y1="303.5" x2="150.5" y2="303.5"/><line x1="145.6" y1="245.5" x2="150.5" y2="245.5"/><line x1="145.6" y1="188.5" x2="150.5" y2="188.5"/><line x1="145.6" y1="130.5" x2="150.5" y2="130.5"/><line x1="145.6" y1="72.5" x2="150.5" y2="72.5"/></g>
<text x="237.75" y="555.3" font-size="14.14" text-anchor="middle" textLength="17.66" lengthAdjust="spacingAndGlyphs">20</text><text x="363.42" y="555.3" font-size="14.14" text-anchor="middle" textLength="17.66" lengthAdjust="spacingAndGlyphs">30</text><text x="489.08" y="555.3" font-size="14.14" text-anchor="middle" textLength="17.66" lengthAdjust="spacingAndGlyphs">40</text><text x="614.75" y="555.3" font-size="14.14" text-anchor="middle" textLength="17.66" lengthAdjust="spacingAndGlyphs">50</text><text x="740.42" y="555.3" font-size="14.14" text-anchor="middle" textLength="17.66" lengthAdjust="spacingAndGlyphs">60</text><text x="866.09" y="555.3" font-size="14.14" text-anchor="middle" textLength="17.66" lengthAdjust="spacingAndGlyphs">70</text><text x="991.75" y="555.3" font-size="14.14" text-anchor="middle" textLength="17.66" lengthAdjust="spacingAndGlyphs">80</text><text x="131.45" y="539.50" font-size="14.14" textLength="8.83" lengthAdjust="spacingAndGlyphs">0</text><text x="131.45" y="481.75" font-size="14.14" textLength="8.83" lengthAdjust="spacingAndGlyphs">5</text><text x="122.62" y="424.00" font-size="14.14" textLength="17.66" lengthAdjust="spacingAndGlyphs">10</text><text x="122.62" y="366.25" font-size="14.14" textLength="17.66" lengthAdjust="spacingAndGlyphs">15</text><text x="122.62" y="307.50" font-size="14.14" textLength="17.66" lengthAdjust="spacingAndGlyphs">20</text><text x="122.62" y="250.75" font-size="14.14" textLength="17.66" lengthAdjust="spacingAndGlyphs">25</text><text x="122.62" y="193.00" font-size="14.14" textLength="17.66" lengthAdjust="spacingAndGlyphs">30</text><text x="122.62" y="135.25" font-size="14.14" textLength="17.66" lengthAdjust="spacingAndGlyphs">35</text><text x="122.62" y="77.50" font-size="14.14" textLength="17.66" lengthAdjust="spacingAndGlyphs">40</text>
<text x="615" y="573.7" font-size="14.14" text-anchor="middle" textLength="116.58" lengthAdjust="spacingAndGlyphs">Frequency (MHz)</text>
<text transform="translate(113.2,303.8) rotate(-90)" x="0" y="0" font-size="14.14" text-anchor="middle" textLength="85.34" lengthAdjust="spacingAndGlyphs">Power (CPU)</text>
<text x="615" y="63.7" font-size="16.97" text-anchor="middle" textLength="320.6" lengthAdjust="spacingAndGlyphs">2025-01-27 - Cor 98 - LWA015 - Pol XX</text>
<rect x="899.6" y="79.5" width="173.8" height="66.9" rx="2.8" ry="2.8" fill="#fff" fill-opacity="0.8" stroke="#cfcfcf" stroke-width="1.2"/>
<line x1="904" y1="91" x2="931.9" y2="91" stroke="#000" stroke-width="2.08" stroke-linecap="square"/>
<circle cx="918.4" cy="112.4" r="2.9" fill="#0000ff"/>
<rect x="904.7" y="128.7" width="27.8" height="8.6" fill="#808080" fill-opacity="0.4" stroke="#808080" stroke-opacity="0.4" stroke-width="1.2"/>
<text x="943.3" y="94.6" font-size="14.14" textLength="122.11" lengthAdjust="spacingAndGlyphs">Median Spectrum</text>
<text x="943.3" y="116.3" font-size="14.14" textLength="123.92" lengthAdjust="spacingAndGlyphs">Flagged Channels</text>
<text x="943.3" y="136.9" font-size="14.14" textLength="119.98" lengthAdjust="spacingAndGlyphs">Median Abs. Dev.</text>
</svg>
</body></html>
